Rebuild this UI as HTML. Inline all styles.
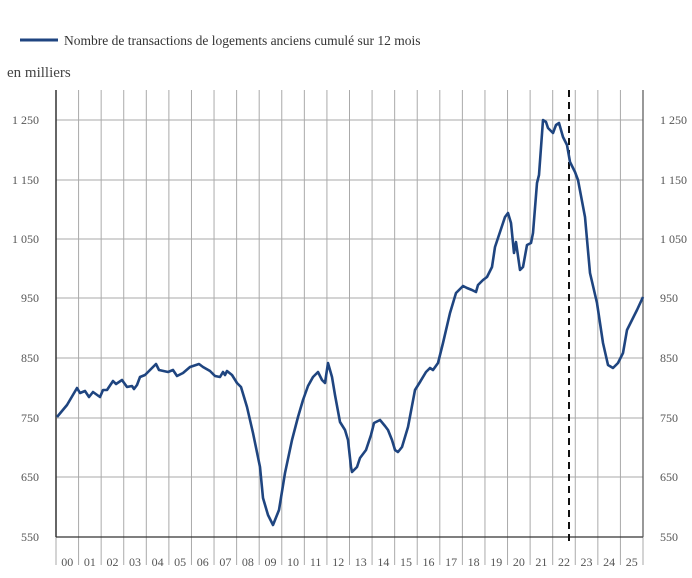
<!DOCTYPE html>
<html><head><meta charset="utf-8"><style>
html,body{margin:0;padding:0;background:#fff;}
svg{display:block;font-family:"Liberation Serif",serif;}
</style></head><body>
<svg width="692" height="578" viewBox="0 0 692 578">
<line x1="20" y1="40" x2="58" y2="40" stroke="#1f4580" stroke-width="3"/>
<text x="64" y="45" font-size="13.5" fill="#333">Nombre de transactions de logements anciens cumulé sur 12 mois</text>
<text x="7" y="77" font-size="15" fill="#444">en milliers</text>
<g stroke="#aaa" stroke-width="1">
<line x1="56" y1="120" x2="643" y2="120"/>
<line x1="56" y1="180" x2="643" y2="180"/>
<line x1="56" y1="239" x2="643" y2="239"/>
<line x1="56" y1="298" x2="643" y2="298"/>
<line x1="56" y1="358" x2="643" y2="358"/>
<line x1="56" y1="418" x2="643" y2="418"/>
<line x1="56" y1="477" x2="643" y2="477"/>
</g>
<g id="vg" stroke="#aaa" stroke-width="1"></g>
<line x1="56" y1="90" x2="56" y2="537" stroke="#333" stroke-width="1.5"/>
<line x1="56" y1="537" x2="643" y2="537" stroke="#333" stroke-width="1.2"/>
<line x1="643" y1="90" x2="643" y2="537" stroke="#555" stroke-width="1.2"/>
<line x1="569" y1="90" x2="569" y2="545" stroke="#111" stroke-width="2" stroke-dasharray="7,5"/>
<g font-size="12" fill="#555" text-anchor="end">
<text x="39" y="124">1 250</text><text x="39" y="184">1 150</text><text x="39" y="243">1 050</text>
<text x="39" y="302">950</text><text x="39" y="362">850</text><text x="39" y="422">750</text>
<text x="39" y="481">650</text><text x="39" y="541">550</text>
</g>
<g font-size="12" fill="#555">
<text x="660" y="124">1 250</text><text x="660" y="184">1 150</text><text x="660" y="243">1 050</text>
<text x="660" y="302">950</text><text x="660" y="362">850</text><text x="660" y="422">750</text>
<text x="660" y="481">650</text><text x="660" y="541">550</text>
</g>
<g id="xl" font-size="12" fill="#555" text-anchor="middle"></g>
<polyline fill="none" stroke="#1f4580" stroke-width="2.6" stroke-linejoin="round" points="
57,417 67,405 77,388 80,393 85,391 89,397 93,392 100,397 103,390 107,390 113,381 116,384 122,380 127,387 132,386 134,389 137,385 140,377 145,375 148,372 153,367 156,364 159,370 168,372 173,370 177,376 183,373 190,367 199,364 203,367 210,371 215,376 220,377 223,372 225,375 227,371 232,375 237,383 241,387 247,407 253,433 260,467 263,498 268,515 273,525 279,510 285,473 292,440 298,417 303,400 308,386 313,377 318,372 322,380 325,383 328,363 332,377 335,395 340,422 345,430 348,440 351,467 352,472 357,467 360,458 366,450 371,435 374,423 380,420 385,426 388,430 392,440 395,450 398,452 402,447 408,427 415,390 420,382 426,372 430,368 433,370 438,363 443,343 450,313 456,293 463,286 467,288 472,290 476,292 478,285 483,280 487,277 492,267 495,247 500,232 505,217 508,213 511,223 514,253 516,242 520,270 523,267 527,245 531,243 533,233 537,183 539,175 543,120 546,122 548,128 553,133 556,125 559,123 563,137 567,145 570,162 575,172 578,180 585,217 590,273 597,303 603,343 608,365 613,368 618,363 623,353 627,330 632,320 637,310 643,297"/>
<script>
var vg=document.getElementById('vg'),xl=document.getElementById('xl'),ns='http://www.w3.org/2000/svg';
var step=(643-56)/26;
for(var i=1;i<=26;i++){var x=56+i*step;var l=document.createElementNS(ns,'line');
l.setAttribute('x1',x);l.setAttribute('x2',x);l.setAttribute('y1',i==26?537:90);l.setAttribute('y2',565);vg.appendChild(l);}
var l0=document.createElementNS(ns,'line');l0.setAttribute('x1',56);l0.setAttribute('x2',56);l0.setAttribute('y1',537);l0.setAttribute('y2',565);vg.appendChild(l0);
for(var i=0;i<26;i++){var t=document.createElementNS(ns,'text');t.setAttribute('x',56+(i+0.5)*step);t.setAttribute('y',566);
t.textContent=(i<10?'0':'')+i;xl.appendChild(t);}
</script>
</svg>
</body></html>
